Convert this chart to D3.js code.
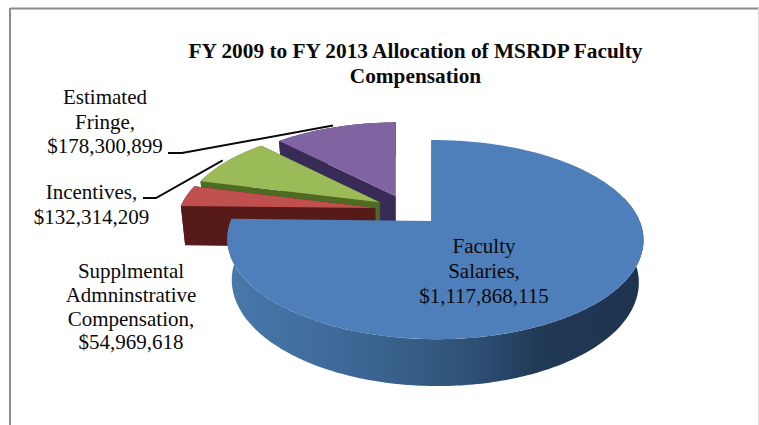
<!DOCTYPE html>
<html>
<head>
<meta charset="utf-8">
<script src="https://cdn.jsdelivr.net/npm/d3@7"></script>
<style>
  html, body { margin: 0; padding: 0; background: #fff; }
  svg { display: block; }
  text { font-family: "Liberation Serif", serif; fill: #0a0a0a; }
</style>
</head>
<body>
<svg id="chart" width="759" height="425"></svg>
<script>
// Allocation of faculty compensation, FY 2009 to FY 2013
const categories = ["Faculty Salaries", "Supplmental Admninstrative Compensation", "Incentives", "Estimated Fringe"];
const amounts = [1117868115, 54969618, 132314209, 178300899];
const topColors = ["#4f7fbb", "#c0504d", "#9bbb59", "#8064a2"];
const wallColors = ["#2b4a70", "#561b19", "#4f6a22", "#382c57"];
const titleLines = ["FY 2009 to FY 2013 Allocation of MSRDP Faculty", "Compensation"];
const labelLines = [
  ["Faculty", "Salaries,", "$1,117,868,115"],
  ["Supplmental", "Admninstrative", "Compensation,", "$54,969,618"],
  ["Incentives,", "$132,314,209"],
  ["Estimated", "Fringe,", "$178,300,899"]
];

const svg = d3.select("#chart");

// Perspective model of the tilted pie: unit-disc coordinates to screen pixels.
const origin = { x: 408, y: 210 };
const radiusX = 200, radiusY = 92, depth = 40;
const tilt = 0.182, skew = 0.02, explode = 0.165, taper = 0.022;

// (ox, oy) is the slice's explosion offset; (X, Y) is a point on the disc relative to it.
function project(ox, oy, X, Y, h) {
  const yy = oy + Y;
  const s = 1 / (1 - tilt * yy - skew * X);
  const shrink = 1 - taper * h;
  return [
    origin.x + 200 * ox + radiusX * X * s * shrink,
    origin.y + radiusY * yy * s + depth * h * Math.pow(s, 0.7)
  ];
}

const pie = d3.pie().sort(null).value(d => d);
const arcs = pie(amounts).map((a, i) => {
  const mid = (a.startAngle + a.endAngle) / 2;
  return { ...a, i, offX: explode * Math.sin(mid), offY: -explode * Math.cos(mid) };
});

const rimPoint = (a, t, h, r = 1) => project(a.offX, a.offY, r * Math.sin(t), -r * Math.cos(t), h);
const apexPoint = (a, h) => project(a.offX, a.offY, 0, 0, h);
const line = d3.line();

function rim(a, from, to, h) {
  const n = Math.max(2, Math.ceil((to - from) * 60));
  return d3.range(n + 1).map(k => rimPoint(a, from + (to - from) * k / n, h));
}

// Horizontal shading along the curved wall of the largest slice.
const grad = svg.append("defs").append("linearGradient")
  .attr("id", "blueWall").attr("gradientUnits", "userSpaceOnUse")
  .attr("x1", 229).attr("x2", 643).attr("y1", 0).attr("y2", 0);
[[0, "#4a78ab"], [0.25, "#3f6a9a"], [0.5, "#33597f"], [0.62, "#2c4b72"], [0.75, "#213955"], [1, "#1e3350"]]
  .forEach(([o, c]) => grad.append("stop").attr("offset", o).attr("stop-color", c));

// Frame
svg.append("line").attr("x1", 10).attr("x2", 759).attr("y1", 8.5).attr("y2", 8.5)
  .attr("stroke", "#8c8c8c").attr("stroke-width", 2);
svg.append("line").attr("x1", 10).attr("x2", 10).attr("y1", 8).attr("y2", 425)
  .attr("stroke", "#8c8c8c").attr("stroke-width", 2);
svg.append("line").attr("x1", 758.5).attr("x2", 758.5).attr("y1", 8).attr("y2", 425)
  .attr("stroke", "#d9d9d9").attr("stroke-width", 1);

// Slices are painted back to front: walls first, then each top face.
const pieLayer = svg.append("g");
[3, 2, 1, 0].forEach(i => {
  const a = arcs[i], g = pieLayer.append("g");
  const start = a.startAngle, end = a.endAngle;
  const cutFace = t => [apexPoint(a, 0), rimPoint(a, t, 0), rimPoint(a, t, 1), apexPoint(a, 1)];
  if (i === 0) {
    const from = Math.PI * 0.42;
    const wall = rim(a, from, end, 0).concat(rim(a, from, end, 1).reverse());
    g.append("path").attr("d", line(wall) + "Z").attr("fill", "url(#blueWall)");
  } else {
    g.append("path").attr("d", line(cutFace(start)) + "Z").attr("fill", wallColors[i]);
    g.append("path").attr("d", line(cutFace(end)) + "Z").attr("fill", wallColors[i]);
    const wall = rim(a, start, end, 0).concat(rim(a, start, end, 1).reverse());
    g.append("path").attr("d", line(wall) + "Z").attr("fill", wallColors[i]);
  }
  const top = [apexPoint(a, 0)].concat(rim(a, start, end, 0));
  g.append("path").attr("d", line(top) + "Z").attr("fill", topColors[i]);
});

// Leader lines run from a label to just past the middle of its slice's outer rim.
const midRim = a => rimPoint(a, (a.startAngle + a.endAngle) / 2, 0, 1.03);
[
  { arc: arcs[3], start: [168, 153], elbow: [182, 153] },
  { arc: arcs[2], start: [143, 198], elbow: [156, 198] }
].forEach(d => {
  svg.append("path")
    .attr("d", line([d.start, d.elbow, midRim(d.arc)]))
    .attr("fill", "none").attr("stroke", "#0a0a0a").attr("stroke-width", 2);
});

// Title
svg.append("g").selectAll("text").data(titleLines).join("text")
  .attr("x", 415.5).attr("y", (d, i) => 58 + i * 25)
  .attr("text-anchor", "middle").attr("font-weight", "bold").attr("font-size", 21.3)
  .text(d => d);

// Data labels
const labelAnchors = [
  { x: 484, y: 253 },
  { x: 131, y: 278 },
  { x: 91.5, y: 199 },
  { x: 105, y: 104 }
];
const lineSteps = [25, 23.8, 25, 24.5];
labelLines.forEach((lines, i) => {
  svg.append("g").selectAll("text").data(lines).join("text")
    .attr("x", labelAnchors[i].x)
    .attr("y", (d, k) => labelAnchors[i].y + k * lineSteps[i])
    .attr("text-anchor", "middle").attr("font-size", 21)
    .text(d => d);
});
</script>
</body>
</html>
